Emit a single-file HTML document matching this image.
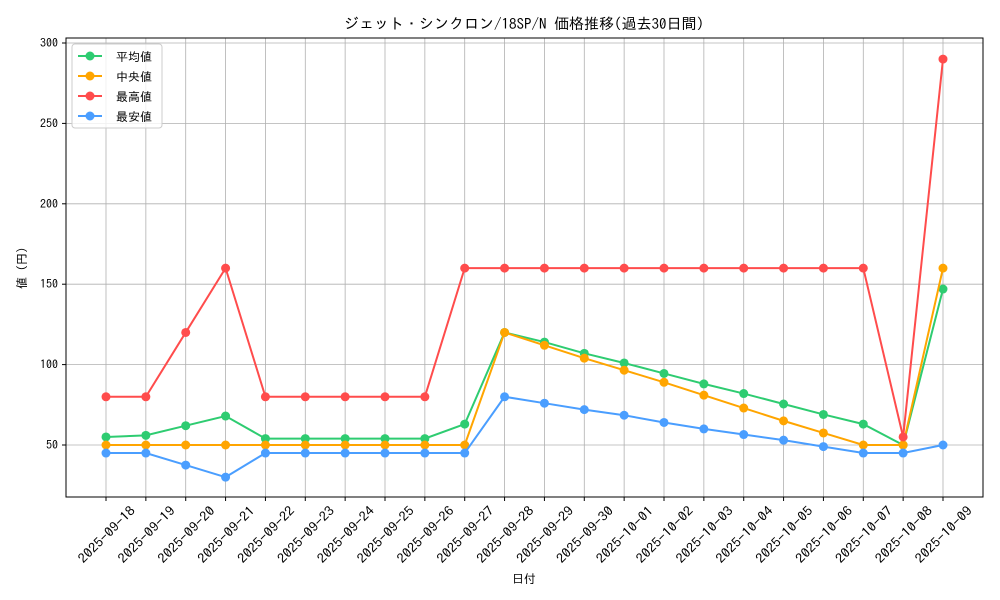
<!DOCTYPE html>
<html><head><meta charset="utf-8"><style>
body{margin:0;background:#fff}
svg{display:block;font-family:"IPAGothic","Noto Sans CJK JP",monospace}
</style></head><body>
<svg width="1000" height="600" xmlns="http://www.w3.org/2000/svg" id="s">
<rect width="1000" height="600" fill="#fff"/>
<text x="524" y="29" font-size="15" text-anchor="middle" fill="#000">ジェット・シンクロン/18SP/N 価格推移(過去30日間)</text>
<g id="grid"></g>
<rect x="66" y="38" width="917" height="459" fill="none" stroke="#000" stroke-width="1"/>
<g id="series"></g>
<text x="524" y="583" font-size="12" text-anchor="middle">日付</text>
<text x="26" y="268" font-size="12" text-anchor="middle" transform="rotate(-90 26 268)">値 (円)</text>
<g>
<rect x="72" y="44" width="90" height="84" fill="#fff" fill-opacity="0.8" stroke="#ccc" rx="3"/>
<line x1="78" y1="56" x2="102" y2="56" stroke="#2ecc71" stroke-width="2"/><circle cx="90" cy="56" r="4.5" fill="#2ecc71"/><text x="116" y="61" font-size="12">平均値</text>
<line x1="78" y1="76" x2="102" y2="76" stroke="#ffa500" stroke-width="2"/><circle cx="90" cy="76" r="4.5" fill="#ffa500"/><text x="116" y="81" font-size="12">中央値</text>
<line x1="78" y1="96" x2="102" y2="96" stroke="#ff4c4c" stroke-width="2"/><circle cx="90" cy="96" r="4.5" fill="#ff4c4c"/><text x="116" y="101" font-size="12">最高値</text>
<line x1="78" y1="116" x2="102" y2="116" stroke="#4a9eff" stroke-width="2"/><circle cx="90" cy="116" r="4.5" fill="#4a9eff"/><text x="116" y="121" font-size="12">最安値</text>
</g>
</svg>
<script>
const NS="http://www.w3.org/2000/svg";
const X=i=>106+i*39.857, Y=v=>445-(v-50)*1.608;
const dates=[];for(let d=18;d<=30;d++)dates.push("2025-09-"+d);for(let d=1;d<=9;d++)dates.push("2025-10-0"+d);
let g=document.getElementById("grid"),h="";
for(let i=0;i<22;i++){const x=X(i);h+=`<line x1="${x}" y1="38" x2="${x}" y2="497" stroke="#b0b0b0" stroke-width="0.8"/><line x1="${x}" y1="497" x2="${x}" y2="501" stroke="#000"/><text font-size="13" text-anchor="middle" textLength="74" lengthAdjust="spacingAndGlyphs" transform="translate(${x+1},${535}) rotate(-45)" dy="4">${dates[i]}</text>`;}
for(let v=50;v<=300;v+=50){const y=Y(v);h+=`<line x1="66" y1="${y}" x2="983" y2="${y}" stroke="#b0b0b0" stroke-width="0.8"/><line x1="62" y1="${y}" x2="66" y2="${y}" stroke="#000"/><text x="58" y="${y+4}" font-size="12" text-anchor="end">${v}</text>`;}
g.innerHTML=h;
const S=[
["#2ecc71",[55,56,62,68,54,54,54,54,54,63,120,114,107,101,94.5,88,82,75.5,69,63,50,147]],
["#ffa500",[50,50,50,50,50,50,50,50,50,50,120,112,104,96.5,89,81,73,65,57.5,50,50,160]],
["#ff4c4c",[80,80,120,160,80,80,80,80,80,160,160,160,160,160,160,160,160,160,160,160,55,290]],
["#4a9eff",[45,45,37.5,30,45,45,45,45,45,45,80,76,72,68.5,64,60,56.5,53,49,45,45,50]]];
let s="";
for(const [c,d] of S){s+=`<polyline fill="none" stroke="${c}" stroke-width="2" points="${d.map((v,i)=>X(i)+","+Y(v)).join(" ")}"/>`;d.forEach((v,i)=>s+=`<circle cx="${X(i)}" cy="${Y(v)}" r="4.5" fill="${c}"/>`);}
document.getElementById("series").innerHTML=s;
</script>
</body></html>
